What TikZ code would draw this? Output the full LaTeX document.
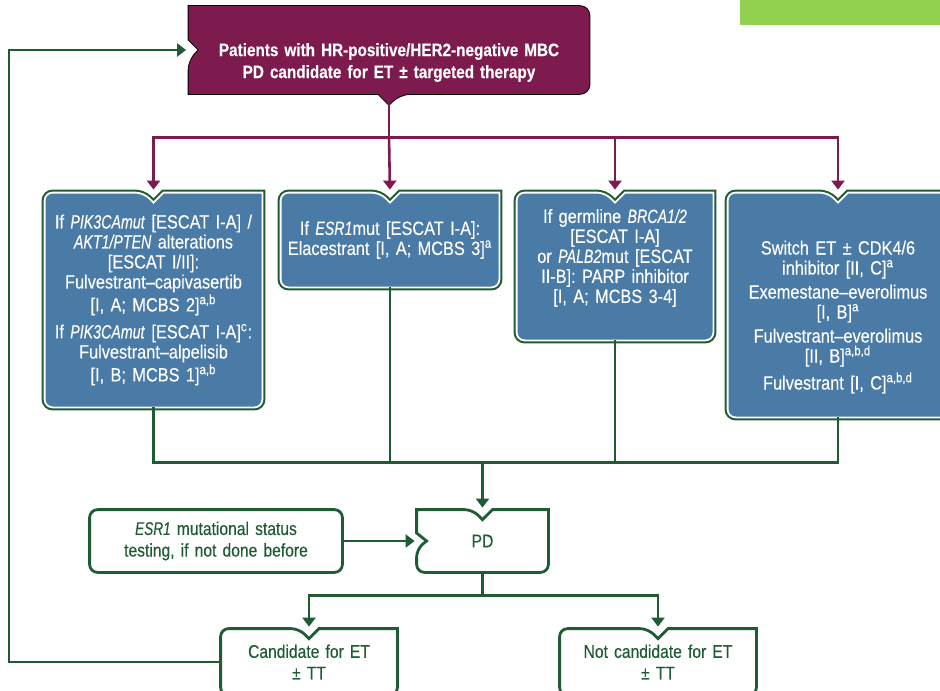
\documentclass[tikz,border=0pt]{standalone}
\usepackage{fontspec}
\setmainfont{Liberation Sans}[FakeStretch=0.85,FakeBold=0.3,
	ItalicFeatures={FakeStretch=0.74,FakeBold=0.3},
	BoldFeatures={FakeStretch=0.85},
	BoldItalicFeatures={FakeStretch=0.74}]
\usetikzlibrary{arrows.meta,calc,positioning,backgrounds}

\definecolor{plum}{HTML}{7D1A4E}
\definecolor{steel}{HTML}{4A7AA6}
\definecolor{pine}{HTML}{1F5C33}
\definecolor{lime}{HTML}{92D050}

\newcommand{\topnotch}[2]{%
  \draw[#2] ($(#1.north)+(0,10)$) -- ($(#1.north)+(10,0)$) -- (#1.north east)
    [rounded corners=4pt] -- (#1.south east) -- (#1.south west) -- (#1.north west)
    -- ($(#1.north)+(-10,0)$) [sharp corners] -- cycle;}
\newcommand{\twonotch}[2]{%
  \draw[#2] ($(#1.north)+(0,10)$) -- ($(#1.north)+(10,0)$) -- (#1.north east)
    [rounded corners=4pt] -- (#1.south east) -- (#1.south west) -- ($(#1.west)+(0,8)$)
    [sharp corners] -- ($(#1.west)+(10,0)$) -- ($(#1.west)+(0,-8)$) -- (#1.north west)
    [rounded corners=4pt] -- ($(#1.north)+(-10,0)$) [sharp corners] -- cycle;}

\begin{document}
\begin{tikzpicture}[x=0.5pt,y=-0.5pt,
	toptext/.style={inner sep=0pt,align=center,text=white,font=\fontsize{9}{11}\selectfont\bfseries},
	bluetext/.style={inner sep=0pt,align=center,text=white,font=\fontsize{9.6}{10}\selectfont},
	greentext/.style={inner sep=0pt,align=center,text=pine,font=\fontsize{9.2}{10.8}\selectfont},
	plumbox/.style={fill=plum},
	bluebox/.style={preaction={draw=pine,line width=3pt},fill=steel,draw=white,line width=0.9pt},
	greenbox/.style={draw=pine,line width=1.4pt,fill=white},
	paths/.style={draw=plum,line width=1.3pt,-{Triangle[width=6.5pt,length=4.5pt]},shorten >=1.5pt},
	greenpaths/.style={draw=pine,line width=1.3pt},
	greenarrow/.style={greenpaths,-{Triangle[width=6.5pt,length=4.5pt]},shorten >=1pt}
	]
\path[use as bounding box] (0,0) rectangle (940,690);
\fill[lime] (740,0) rectangle (940,25);

\node[toptext,minimum width=200.5pt,minimum height=44pt,text width=196pt](top) at (389,50)
	{\rule{0pt}{19pt}Patients with HR-positive/HER2-negative MBC\\PD candidate for ET ± targeted therapy};

\node[bluetext,minimum width=108.5pt,minimum height=107pt,text width=106pt](b1) at (153.5,300)
	{If \textit{PIK3CAmut} [ESCAT I-A] /\\\textit{AKT1/PTEN} alterations\\{[}ESCAT I/II]:\\Fulvestrant–capivasertib\\{[}I, A; MCBS 2]\textsuperscript{a,b}\\[3.5pt]If \textit{PIK3CAmut} [ESCAT I-A]\textsuperscript{c}:\\Fulvestrant–alpelisib\\{[}I, B; MCBS 1]\textsuperscript{a,b}};
\node[bluetext,minimum width=109pt,minimum height=47pt,text width=106pt](b2) at (390,240)
	{If \textit{ESR1}mut [ESCAT I-A]:\\Elacestrant [I, A; MCBS 3]\textsuperscript{a}};
\node[bluetext,minimum width=98pt,minimum height=73.5pt,text width=96pt](b3) at (615,266.5)
	{If germline \textit{BRCA1/2}\\{[}ESCAT I-A]\\or \textit{PALB2}mut [ESCAT\\II-B]: PARP inhibitor\\{[}I, A; MCBS 3-4]\rule[-10.5pt]{0pt}{1pt}};
\node[bluetext,minimum width=110pt,minimum height=112pt,text width=106pt](b4) at (838,305)
	{\rule{0pt}{19pt}Switch ET ± CDK4/6\\inhibitor [II, C]\textsuperscript{a}\\[2pt]Exemestane–everolimus\\{[}I, B]\textsuperscript{a}\\[2pt]Fulvestrant–everolimus\\{[}II, B]\textsuperscript{a,b,d}\\[2pt]Fulvestrant [I, C]\textsuperscript{a,b,d}};

\node[greentext,minimum width=65.5pt,minimum height=31pt,text width=60pt](pd) at (482.5,541) {PD};
\node[greentext,minimum width=126pt,minimum height=31pt,text width=122pt](esr) at (216,541)
	{\textit{ESR1} mutational status\\testing, if not done before};
\node[greentext,minimum width=88pt,minimum height=33pt,text width=86pt](cand) at (309,662)
	{Candidate for ET\\± TT};
\node[greentext,minimum width=98pt,minimum height=33pt,text width=96pt](notc) at (658,662)
	{Not candidate for ET\\± TT};

% box outlines
\begin{pgfonlayer}{background}
\draw[plumbox] ($(top.west)+(0,-10)$) -- (top.north west) [rounded corners=5pt] -- (top.north east)
	-- (top.south east) -- ($(top.south)+(11,0)$) [sharp corners] -- ($(top.south)+(0,11)$)
	-- ($(top.south)+(-11,0)$) -- (top.south west) [rounded corners=5pt] -- ($(top.west)+(0,10)$)
	[sharp corners] -- ($(top.west)+(10,0)$) -- cycle;
\topnotch{b1}{bluebox}
\topnotch{b2}{bluebox}
\topnotch{b3}{bluebox}
\topnotch{b4}{bluebox}
\twonotch{pd}{greenbox}
\draw[greenbox,rounded corners=4pt] (esr.north west) rectangle (esr.south east);
\topnotch{cand}{greenbox}
\topnotch{notc}{greenbox}
\end{pgfonlayer}

% connectors
\coordinate (hub) at ($(top.south)+(0,43)$);
\draw[paths] (top.south) -- (hub) -| (b1.north);
\draw[paths] (hub) -- (b2.north);
\draw[paths] (hub) -| (b3.north);
\draw[paths] (hub) -| (b4.north);

\coordinate (merge) at ($(pd.north)+(0,-47)$);
\draw[greenpaths] (b1.south) |- (merge) -| (b4.south);
\draw[greenpaths] (b2.south) -- (b2.south |- merge);
\draw[greenpaths] (b3.south) -- (b3.south |- merge);
\draw[greenarrow] (merge) -- (pd.north);
\draw[greenarrow] (esr.east) -- (pd.west);

\coordinate (fork) at ($(pd.south)+(0,23)$);
\draw[greenarrow] (pd.south) -- (fork) -| (cand.north);
\draw[greenarrow] (fork) -| (notc.north);

\coordinate (rail) at (9,0);
\draw[greenarrow] (cand.west) -- (cand.west -| rail) |- (top.west);
\end{tikzpicture}
\end{document}
